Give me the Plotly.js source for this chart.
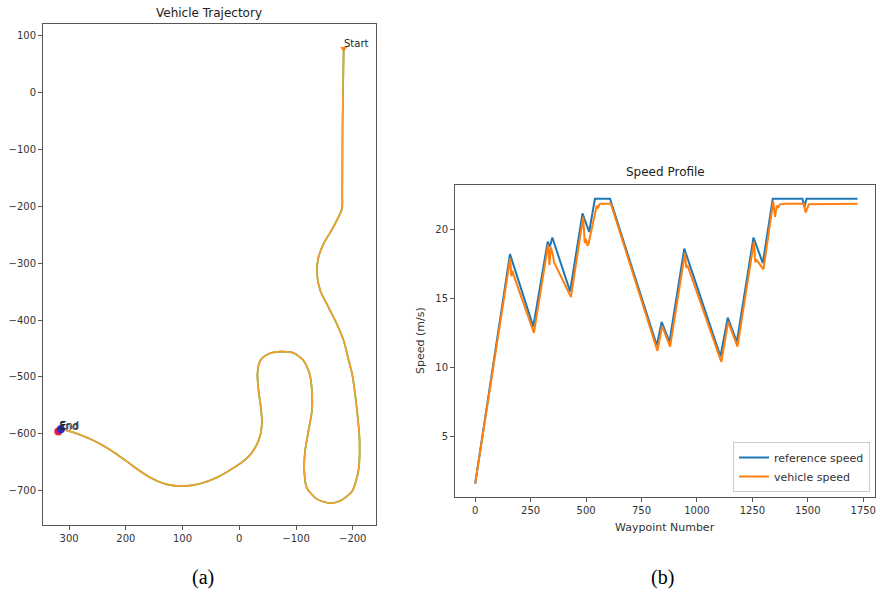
<!DOCTYPE html>
<html>
<head>
<meta charset="utf-8">
<script src="https://cdn.plot.ly/plotly-3.0.1.min.js"></script>
<style>
  html, body { margin: 0; padding: 0; background: #fff; }
  #chart { width: 880px; height: 592px; }
</style>
</head>
<body>
<div id="chart"></div>
<script>
// ---- Vehicle trajectory ----
const path_x = [-184, -182, -181.5, -181, -166, -148.5, -139.7, -137, -142.7, -157, -172, -184, -193, -199, -207, -212, -210, -199, -178, -160, -137, -119, -114.5, -116, -122, -128, -128, -124, -113, -96, -72, -51.5, -37, -32, -34, -38, -40, -34, -20, -5, 10, 39.5, 69, 98, 128, 157, 187, 216, 245, 275, 304, 313];
const path_y = [78, -60, -180, -204, -236, -266, -289, -318, -348, -377, -407, -436, -471, -495, -554, -612, -665, -701, -718, -722, -715, -695, -665, -630, -595, -560, -524, -495, -471, -458, -455.6, -459.6, -471, -495, -524, -554, -583, -612, -636, -650, -660, -677, -688, -692, -689, -677, -657, -636, -618, -604, -594, -592];
const start_pt = [-184, 78];
const end_ref_pt = [319, -596];
const end_veh_pt = [314.6, -592];

// ---- Speed profile ----
const ref_wp = [0, 157, 262, 327, 337, 348, 428, 484, 514, 540, 608, 819, 841, 876, 943, 1106, 1139, 1180, 1255, 1297, 1342, 1476, 1484, 1494, 1724];
const ref_v  = [1.6, 18.2, 12.95, 19.1, 18.75, 19.4, 15.5, 21.15, 19.8, 22.2, 22.2, 11.6, 13.3, 11.85, 18.6, 10.8, 13.6, 11.85, 19.4, 17.55, 22.2, 22.2, 21.6, 22.2, 22.2];
const veh_wp = [0, 158, 163, 168, 173, 265, 329, 335, 341, 350, 356, 432, 487, 494, 500, 506, 512, 548, 553, 560, 566, 612, 822, 843, 879, 946, 952, 957, 1110, 1141, 1183, 1257, 1263, 1268, 1300, 1344, 1352, 1360, 1366, 1375, 1400, 1482, 1490, 1498, 1505, 1724];
const veh_v  = [1.6, 17.9, 16.6, 17.0, 16.7, 12.5, 18.9, 17.4, 18.7, 18.2, 17.6, 15.1, 20.9, 19.0, 19.3, 18.8, 19.0, 21.7, 21.5, 21.8, 21.85, 21.85, 11.2, 13.0, 11.5, 18.3, 17.2, 17.4, 10.4, 13.3, 11.5, 19.1, 17.6, 17.8, 17.1, 22.0, 20.9, 21.7, 21.6, 21.8, 21.85, 21.85, 21.2, 21.6, 21.8, 21.85];

const W = 880, H = 592;
const fx = px => px / W;
const fy = py => 1 - py / H;

const BLUE = '#1f77b4', ORANGE = '#ff7f0e', GREEN = '#2ca02c';
const FONT = 'DejaVu Sans, sans-serif';

const traces = [
  { x: path_x, y: path_y, xaxis: 'x', yaxis: 'y', mode: 'lines', showlegend: false,
    line: { color: GREEN, width: 1.7, shape: 'spline', smoothing: 0.7 }, hoverinfo: 'skip' },
  { x: path_x, y: path_y, xaxis: 'x', yaxis: 'y', mode: 'lines', showlegend: false,
    line: { color: '#f5a030', width: 1.7, shape: 'spline', smoothing: 0.7 }, hoverinfo: 'skip' },
  { x: [start_pt[0]], y: [start_pt[1]], xaxis: 'x', yaxis: 'y', mode: 'markers', showlegend: false,
    marker: { color: ORANGE, size: 6, symbol: 'triangle-down' } },
  { x: [end_ref_pt[0]], y: [end_ref_pt[1]], xaxis: 'x', yaxis: 'y', mode: 'markers', showlegend: false,
    marker: { color: '#e8203a', size: 8, symbol: 'circle' } },
  { x: [end_veh_pt[0]], y: [end_veh_pt[1]], xaxis: 'x', yaxis: 'y', mode: 'markers', showlegend: false,
    marker: { color: '#2a2ad0', size: 8, symbol: 'circle' } },
  { x: ref_wp, y: ref_v, xaxis: 'x2', yaxis: 'y2', mode: 'lines', name: 'reference speed',
    line: { color: BLUE, width: 2 } },
  { x: veh_wp, y: veh_v, xaxis: 'x2', yaxis: 'y2', mode: 'lines', name: 'vehicle speed',
    line: { color: ORANGE, width: 2 } }
];

const axisBase = {
  showgrid: false, zeroline: false, showline: true, mirror: true,
  linecolor: '#555', linewidth: 1, ticks: 'outside', ticklen: 4, tickwidth: 1,
  tickcolor: '#555', tickfont: { family: FONT, size: 10, color: '#333' }
};

const layout = {
  width: W, height: H,
  margin: { l: 0, r: 0, t: 0, b: 0 },
  paper_bgcolor: '#fff', plot_bgcolor: '#fff',
  showlegend: true,
  xaxis: Object.assign({}, axisBase, {
    domain: [fx(43), fx(376)], range: [346, -241], tickmode: 'array',
    tickvals: [300, 200, 100, 0, -100, -200], anchor: 'y'
  }),
  yaxis: Object.assign({}, axisBase, {
    domain: [fy(525), fy(24)], range: [-760.5, 121], tickmode: 'array',
    tickvals: [100, 0, -100, -200, -300, -400, -500, -600, -700], anchor: 'x'
  }),
  xaxis2: Object.assign({}, axisBase, {
    domain: [fx(455), fx(875)], range: [-91, 1803], tickmode: 'array',
    tickvals: [0, 250, 500, 750, 1000, 1250, 1500, 1750], anchor: 'y2'
  }),
  yaxis2: Object.assign({}, axisBase, {
    domain: [fy(496.7), fy(185)], range: [0.65, 23.2], tickmode: 'array',
    tickvals: [5, 10, 15, 20], anchor: 'x2'
  }),
  legend: {
    x: fx(870), y: fy(492), xanchor: 'right', yanchor: 'bottom',
    bgcolor: 'rgba(255,255,255,0.9)', bordercolor: '#ccc', borderwidth: 1,
    font: { family: FONT, size: 11, color: '#333' }, tracegroupgap: 0,
    itemwidth: 30
  },
  annotations: [
    { text: 'Vehicle Trajectory', xref: 'paper', yref: 'paper', x: fx(209), y: fy(12.5),
      xanchor: 'center', yanchor: 'middle', showarrow: false,
      font: { family: FONT, size: 12, color: '#222' } },
    { text: 'Speed Profile', xref: 'paper', yref: 'paper', x: fx(665.5), y: fy(172.5),
      xanchor: 'center', yanchor: 'middle', showarrow: false,
      font: { family: FONT, size: 12, color: '#222' } },
    { text: 'Waypoint Number', xref: 'paper', yref: 'paper', x: fx(665), y: fy(527.5),
      xanchor: 'center', yanchor: 'middle', showarrow: false,
      font: { family: FONT, size: 11, color: '#333' } },
    { text: 'Speed (m/s)', xref: 'paper', yref: 'paper', x: fx(420), y: fy(341),
      xanchor: 'center', yanchor: 'middle', showarrow: false, textangle: -90,
      font: { family: FONT, size: 11, color: '#333' } },
    { text: 'Start', xref: 'x', yref: 'y', x: start_pt[0], y: start_pt[1],
      xanchor: 'left', yanchor: 'bottom', showarrow: false, xshift: -2, yshift: -3,
      font: { family: FONT, size: 10, color: '#222' } },
    { text: 'End', xref: 'x', yref: 'y', x: end_veh_pt[0], y: end_veh_pt[1],
      xanchor: 'left', yanchor: 'bottom', showarrow: false, xshift: -3, yshift: -4,
      font: { family: FONT, size: 10, color: '#222' } },
    { text: 'End', xref: 'x', yref: 'y', x: end_ref_pt[0], y: end_ref_pt[1],
      xanchor: 'left', yanchor: 'bottom', showarrow: false, xshift: -1, yshift: -2,
      font: { family: FONT, size: 10, color: '#333' } },
    { text: '(a)', xref: 'paper', yref: 'paper', x: fx(202.5), y: fy(577),
      xanchor: 'center', yanchor: 'middle', showarrow: false,
      font: { family: 'Liberation Serif, Times New Roman, serif', size: 20, color: '#000' } },
    { text: '(b)', xref: 'paper', yref: 'paper', x: fx(662), y: fy(577),
      xanchor: 'center', yanchor: 'middle', showarrow: false,
      font: { family: 'Liberation Serif, Times New Roman, serif', size: 20, color: '#000' } }
  ]
};

Plotly.newPlot('chart', traces, layout, { displayModeBar: false, staticPlot: true });
</script>
</body>
</html>
